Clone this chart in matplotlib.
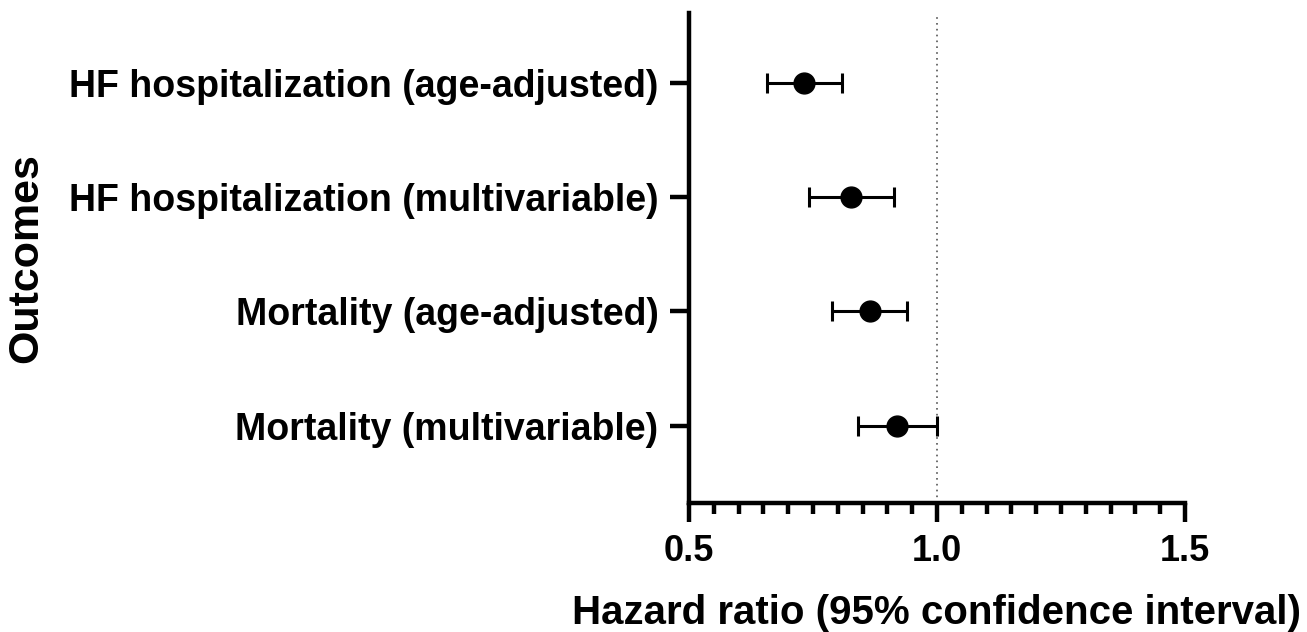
import numpy as np
import matplotlib
matplotlib.use("Agg")
import matplotlib.pyplot as plt
from matplotlib.ticker import MultipleLocator

# values (top row first)
outcomes = [
    "HF hospitalization (age-adjusted)",
    "HF hospitalization (multivariable)",
    "Mortality (age-adjusted)",
    "Mortality (multivariable)",
]
hr = [0.732, 0.827, 0.864, 0.920]
ci_low = [0.657, 0.741, 0.789, 0.840]
ci_high = [0.809, 0.913, 0.940, 1.000]
x_ticks = [0.5, 1.0, 1.5]

plt.rcParams["font.family"] = ["Liberation Sans", "DejaVu Sans"]
plt.rcParams["font.weight"] = "bold"

fig = plt.figure(figsize=(13.07, 6.32), dpi=100)
ax = fig.add_axes([689 / 1307, 129 / 632, 496 / 1307, 490 / 632])

ypos = np.arange(len(outcomes))[::-1] + 1
hr = np.array(hr)
err = [hr - np.array(ci_low), np.array(ci_high) - hr]

ax.axvline(1.0, color="#555555", lw=1.2, ls=(0, (1, 2.5)), zorder=1)
ax.errorbar(hr, ypos, xerr=err, fmt="o", color="black", ms=15,
            elinewidth=2.2, capsize=7.5, capthick=2.2, zorder=3)

ax.set_xlim(0.5, 1.5)
ax.set_ylim(0.324, 4.61)
ax.set_yticks(ypos)
ax.set_yticklabels(outcomes, fontsize=27)
ax.set_xticks(x_ticks)
ax.set_xticklabels([f"{t:.1f}" for t in x_ticks], fontsize=26)
ax.xaxis.set_minor_locator(MultipleLocator(0.05))

for side in ["top", "right"]:
    ax.spines[side].set_visible(False)
for side in ["left", "bottom"]:
    ax.spines[side].set_linewidth(3.2)

ax.tick_params(axis="both", which="major", width=3.2, length=14, pad=8)
ax.tick_params(axis="x", which="minor", width=3.2, length=8)
ax.tick_params(axis="y", which="minor", left=False)

ax.set_xlabel("Hazard ratio (95% confidence interval)", fontsize=29,
              fontweight="bold", labelpad=18)
ax.set_ylabel("Outcomes", fontsize=31, fontweight="bold")
ax.yaxis.set_label_coords((46 - 689) / 496, 0.5)

fig.savefig("out.png", dpi=100)
